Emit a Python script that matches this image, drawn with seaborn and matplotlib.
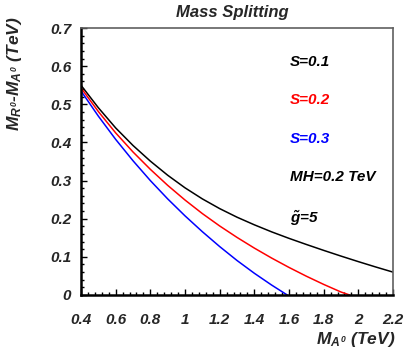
import numpy as np
import pandas as pd
import matplotlib
matplotlib.use("Agg")
import matplotlib.pyplot as plt
from matplotlib.ticker import MultipleLocator, FuncFormatter
import seaborn as sns

# ---- data ----
x_s01 = [0.4, 0.5, 0.6, 0.7, 0.8, 0.9, 1.0, 1.1, 1.2, 1.3, 1.4, 1.5, 1.6, 1.7, 1.8, 1.9, 2.0, 2.1, 2.2]
y_s01 = [0.550, 0.491, 0.438, 0.392, 0.351, 0.314, 0.281, 0.252, 0.2265, 0.204, 0.184, 0.1655, 0.1485,
         0.1325, 0.117, 0.102, 0.0875, 0.0735, 0.060]
x_s02 = [0.4, 0.5, 0.6, 0.7, 0.8, 0.9, 1.0, 1.1, 1.2, 1.3, 1.4, 1.5, 1.6, 1.7, 1.8, 1.9, 1.95]
y_s02 = [0.543, 0.481, 0.425, 0.375, 0.3295, 0.2875, 0.249, 0.2135, 0.181, 0.151, 0.123, 0.0968, 0.0723,
         0.0493, 0.0278, 0.0078, 0.0]
x_s03 = [0.4, 0.5, 0.6, 0.7, 0.8, 0.9, 1.0, 1.1, 1.2, 1.3, 1.4, 1.5, 1.59]
y_s03 = [0.535, 0.469, 0.408, 0.352, 0.300, 0.252, 0.2075, 0.166, 0.127, 0.0905, 0.057, 0.026, 0.0]

series_names = ["S=0.1", "S=0.2", "S=0.3"]
series_colors = ["black", "red", "blue"]
x_ticks = [0.4, 0.6, 0.8, 1.0, 1.2, 1.4, 1.6, 1.8, 2.0, 2.2]
y_ticks = [0, 0.1, 0.2, 0.3, 0.4, 0.5, 0.6, 0.7]

df = pd.concat([
    pd.DataFrame({"x": x_s01, "y": y_s01, "S": series_names[0]}),
    pd.DataFrame({"x": x_s02, "y": y_s02, "S": series_names[1]}),
    pd.DataFrame({"x": x_s03, "y": y_s03, "S": series_names[2]}),
])

sns.set_theme(style="white")
plt.rcParams["font.family"] = ["Liberation Sans", "DejaVu Sans"]
plt.rcParams["mathtext.fontset"] = "custom"
plt.rcParams["mathtext.rm"] = "Liberation Sans:bold:italic"
plt.rcParams["mathtext.it"] = "Liberation Sans:bold:italic"
plt.rcParams["mathtext.bf"] = "Liberation Sans:bold:italic"

fig = plt.figure(figsize=(4.05, 3.58), dpi=100)
ax = fig.add_axes([81 / 405, 1 - 295 / 358, (393 - 81) / 405, (295 - 28) / 358])

sns.lineplot(data=df, x="x", y="y", hue="S", palette=dict(zip(series_names, series_colors)),
             ax=ax, legend=False, linewidth=1.1, estimator=None, sort=False)

ax.set_xlim(0.4, 2.2)
ax.set_ylim(0, 0.7)
ax.set_xticks(x_ticks)
ax.set_yticks(y_ticks)
ax.xaxis.set_minor_locator(MultipleLocator(0.04))
ax.yaxis.set_minor_locator(MultipleLocator(0.02))
fmt = FuncFormatter(lambda v, p: "%g" % round(v, 3))
ax.xaxis.set_major_formatter(fmt)
ax.yaxis.set_major_formatter(fmt)
ax.tick_params(axis="both", which="major", direction="in", length=4.5, width=1.0, color="black",
               bottom=True, left=True, top=False, right=False, labelsize=11)
ax.tick_params(axis="both", which="minor", direction="in", length=2.2, width=1.0, color="black",
               bottom=True, left=True, top=False, right=False)
ax.tick_params(axis="x", which="major", pad=13)
ax.tick_params(axis="y", which="major", pad=7)
for lab in ax.get_xticklabels() + ax.get_yticklabels():
    lab.set_fontweight("bold")
    lab.set_fontstyle("italic")

for side in ["left", "bottom"]:
    ax.spines[side].set_color("black")
    ax.spines[side].set_linewidth(1.8)
for side in ["top", "right"]:
    ax.spines[side].set_color("#606060")
    ax.spines[side].set_linewidth(1.2)

ax.set_xlabel("")
ax.set_ylabel("")
fig.text(0.975, 0.025, r"$M_{A^{0}}$ (TeV)", ha="right", va="bottom", fontsize=12.5,
         fontweight="bold", fontstyle="italic")
fig.text(0.035, 0.955, r"$M_{R^{0}}$-$M_{A^{0}}$ (TeV)", ha="center", va="top", rotation=90,
         fontsize=12.5, fontweight="bold", fontstyle="italic")
fig.text(232 / 405, 1 - 12 / 358, "Mass Splitting", ha="center", va="center", fontsize=12,
         fontweight="bold", fontstyle="italic")

ann_x = 1.606
ann_kw = dict(fontsize=11, fontweight="bold", fontstyle="italic", va="center")
ax.text(ann_x, 0.611, series_names[0], color=series_colors[0], **ann_kw)
ax.text(ann_x, 0.511, series_names[1], color=series_colors[1], **ann_kw)
ax.text(ann_x, 0.409, series_names[2], color=series_colors[2], **ann_kw)
ax.text(ann_x, 0.309, "MH=0.2 TeV", color="black", **ann_kw)
ax.text(ann_x, 0.202, r"$\tilde{g}$=5", color="black", **ann_kw)

fig.savefig("out.png", dpi=100)
